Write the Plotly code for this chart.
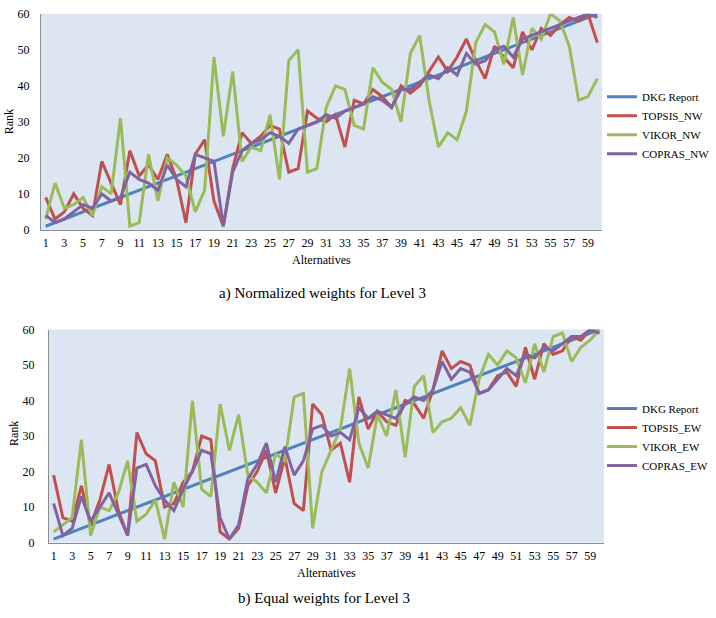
import plotly.graph_objects as go

alternatives = list(range(1, 61))
tick_labels = [str(v) for v in range(1, 60, 2)]

dkg_report = [1, 2, 3, 4, 5, 6, 7, 8, 9, 10, 11, 12, 13, 14, 15, 16, 17, 18, 19, 20,
              21, 22, 23, 24, 25, 26, 27, 28, 29, 30, 31, 32, 33, 34, 35, 36, 37, 38, 39, 40,
              41, 42, 43, 44, 45, 46, 47, 48, 49, 50, 51, 52, 53, 54, 55, 56, 57, 58, 59, 60]

topsis_nw = [9, 3, 5, 10, 6, 4, 19, 13, 7, 22, 15, 18, 14, 21, 14, 2, 21, 25, 8, 1,
             17, 27, 24, 26, 29, 28, 16, 17, 33, 31, 30, 32, 23, 36, 35, 39, 37, 34, 40, 38,
             40, 44, 48, 44, 48, 53, 47, 42, 51, 48, 45, 55, 50, 56, 54, 57, 59, 58, 60, 52]
vikor_nw = [3, 13, 6, 7, 9, 4, 12, 10, 31, 1, 2, 21, 8, 20, 18, 15, 5, 11, 48, 26,
            44, 19, 23, 22, 32, 14, 47, 50, 16, 17, 34, 40, 39, 29, 28, 45, 41, 39, 30, 49,
            54, 36, 23, 27, 25, 33, 52, 57, 55, 46, 59, 43, 56, 53, 60, 58, 51, 36, 37, 42]
copras_nw = [4, 2, 3, 5, 7, 6, 10, 8, 9, 16, 14, 13, 11, 18, 14, 12, 21, 20, 19, 1,
             16, 22, 24, 25, 27, 26, 24, 28, 29, 30, 32, 31, 33, 34, 35, 37, 36, 34, 39, 39,
             41, 43, 42, 45, 43, 49, 46, 47, 50, 51, 48, 53, 54, 55, 56, 57, 58, 59, 60, 59]

topsis_ew = [19, 7, 6, 16, 5, 12, 22, 9, 2, 31, 25, 23, 10, 11, 17, 20, 30, 29, 3, 1,
             4, 16, 20, 26, 14, 24, 11, 9, 39, 36, 26, 28, 17, 41, 32, 37, 34, 33, 40, 39,
             35, 43, 54, 49, 51, 50, 42, 43, 47, 48, 44, 55, 46, 56, 53, 54, 58, 57, 60, 59]
vikor_ew = [3, 5, 7, 29, 2, 10, 9, 14, 23, 6, 8, 12, 1, 17, 10, 40, 15, 13, 39, 26,
            36, 19, 17, 14, 25, 23, 41, 42, 4, 20, 26, 32, 49, 28, 21, 36, 30, 43, 24, 44,
            47, 31, 34, 35, 38, 33, 46, 53, 50, 54, 52, 45, 56, 48, 58, 59, 51, 55, 57, 60]
copras_ew = [11, 2, 4, 13, 6, 10, 14, 8, 2, 21, 22, 16, 12, 9, 15, 20, 26, 25, 7, 1,
             5, 18, 22, 28, 17, 27, 19, 23, 32, 33, 30, 31, 29, 38, 35, 37, 36, 35, 39, 41,
             40, 43, 51, 46, 49, 48, 42, 43, 46, 49, 47, 53, 52, 55, 54, 56, 58, 58, 60, 59]

names_nw = ["DKG Report", "TOPSIS_NW", "VIKOR_NW", "COPRAS_NW"]
names_ew = ["DKG Report", "TOPSIS_EW", "VIKOR_EW", "COPRAS_EW"]
colors = ["#4f81bd", "#c0504d", "#9bbb59", "#8064a2"]

W, H = 716, 618
FONT = "Liberation Serif"
BG = "#dce6f2"

def px_x(p):
    return p / W

def px_y(p):
    return 1 - p / H

fig = go.Figure()

series_top = [dkg_report, topsis_nw, vikor_nw, copras_nw]
series_bot = [dkg_report, topsis_ew, vikor_ew, copras_ew]

for name, ys, c in zip(names_nw, series_top, colors):
    fig.add_trace(go.Scatter(x=alternatives, y=ys, name=name, mode="lines",
                             line=dict(color=c, width=3), xaxis="x", yaxis="y",
                             legend="legend"))
for name, ys, c in zip(names_ew, series_bot, colors):
    fig.add_trace(go.Scatter(x=alternatives, y=ys, name=name, mode="lines",
                             line=dict(color=c, width=3), xaxis="x2", yaxis="y2",
                             legend="legend2"))

axis_common = dict(showgrid=False, zeroline=False, showline=True, linecolor="#8c8c8c",
                   linewidth=1, ticks="", tickfont=dict(family=FONT, size=12, color="black"))

fig.update_layout(
    width=W, height=H,
    margin=dict(l=0, r=0, t=0, b=0),
    paper_bgcolor="white",
    plot_bgcolor=BG,
    xaxis=dict(domain=[px_x(41), px_x(602)], range=[0.5, 60.5], anchor="y",
               tickmode="array", tickvals=list(range(1, 60, 2)), ticktext=tick_labels,
               ticklabelstandoff=2, **axis_common),
    yaxis=dict(domain=[px_y(228), px_y(7)], range=[0, 60], dtick=10, anchor="x",
               ticklabelstandoff=8, **axis_common),
    xaxis2=dict(domain=[px_x(49), px_x(604)], range=[0.5, 60.5], anchor="y2",
                tickmode="array", tickvals=list(range(1, 60, 2)), ticktext=tick_labels,
                ticklabelstandoff=2, **axis_common),
    yaxis2=dict(domain=[px_y(548), px_y(330)], range=[0, 60], dtick=10, anchor="x2",
                ticklabelstandoff=11, **axis_common),
    legend=dict(x=px_x(602), y=px_y(77), xanchor="left", yanchor="top",
                bgcolor="rgba(0,0,0,0)", font=dict(family=FONT, size=11, color="black"),
                itemwidth=30, tracegroupgap=0),
    legend2=dict(x=px_x(602), y=px_y(396), xanchor="left", yanchor="top",
                 bgcolor="rgba(0,0,0,0)", font=dict(family=FONT, size=11, color="black"),
                 itemwidth=30, tracegroupgap=0),
    showlegend=True,
)

annots = [
    dict(text="Alternatives", x=px_x(321), y=px_y(259), size=12, angle=0),
    dict(text="Rank", x=px_x(9), y=px_y(118), size=12, angle=-90),
    dict(text="a) Normalized weights for Level 3", x=px_x(322), y=px_y(293), size=15, angle=0),
    dict(text="Alternatives", x=px_x(326), y=px_y(579), size=12, angle=0),
    dict(text="Rank", x=px_x(14), y=px_y(437), size=12, angle=-90),
    dict(text="b) Equal weights for Level 3", x=px_x(324), y=px_y(605), size=15, angle=0),
]
for a in annots:
    fig.add_annotation(text=a["text"], x=a["x"], y=a["y"], xref="paper", yref="paper",
                       showarrow=False, textangle=a["angle"], xanchor="center", yanchor="middle",
                       font=dict(family=FONT, size=a["size"], color="black"))

fig.write_html("out.html", config={"displayModeBar": False},
               post_script="document.body.style.margin='0';document.body.style.overflow='hidden';")
